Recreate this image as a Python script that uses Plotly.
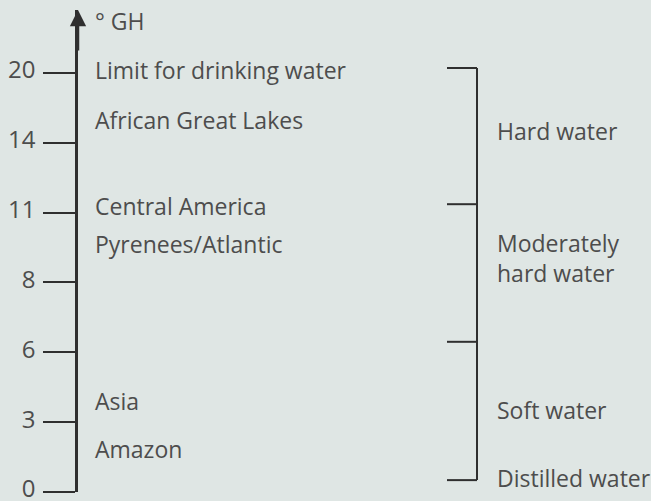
import plotly.graph_objects as go

# hardness scale (drawn evenly spaced, not to scale)
gh_ticks = ["0", "3", "6", "8", "11", "14", "20"]
tick_pos = list(range(len(gh_ticks)))

# where waters come from, positioned on the scale
origins = ["Limit for drinking water", "African Great Lakes", "Central America",
           "Pyrenees/Atlantic", "Asia", "Amazon"]
origin_pos = [5.99, 5.28, 4.05, 3.5, 1.25, 0.57]

# hardness classes (bracket on the right)
classes = ["Hard water", "Moderately<br>hard water", "Soft water", "Distilled water"]
class_pos = [5.12, 3.3, 1.13, 0.16]
bracket_bounds = [6.07, 4.12, 2.15, 0.17]

ink = "#2f2f2f"
txt = "#4d4d4d"
bg = "#dfe6e4"
font = "Open Sans"
fs = 23

fig = go.Figure()

fig.add_trace(go.Scatter(
    x=[17] * len(origins), y=origin_pos, text=origins,
    mode="text", textposition="middle right",
    textfont=dict(family=font, size=fs, color=txt),
    hoverinfo="skip", showlegend=False))

# bracket
bx, by = [], []
for b in bracket_bounds:
    bx += [369, 399, None]
    by += [b, b, None]
bx += [399, 399]
by += [bracket_bounds[0], bracket_bounds[-1]]
fig.add_trace(go.Scatter(x=bx, y=by, mode="lines",
                         line=dict(color=ink, width=2),
                         hoverinfo="skip", showlegend=False))

fig.add_trace(go.Scatter(
    x=[419] * len(classes), y=class_pos, text=classes,
    mode="text", textposition="middle right",
    textfont=dict(family=font, size=fs, color=txt),
    hoverinfo="skip", showlegend=False))

fig.add_annotation(x=0, y=6.9, ax=0, ay=6.3, xref="x", yref="y",
                   axref="x", ayref="y", text="", showarrow=True,
                   arrowhead=2, arrowsize=1.3, arrowwidth=2.5, arrowcolor=ink)
fig.add_annotation(x=15, y=6.74, xref="x", yref="y", text="° GH",
                   showarrow=False, xanchor="left",
                   font=dict(family=font, size=fs, color=txt))

fig.update_xaxes(range=[0, 573], visible=False, fixedrange=True,
                 automargin=False)
fig.update_yaxes(range=[0, 6.9], tickvals=tick_pos, ticktext=gh_ticks,
                 ticks="outside", ticklen=32, tickwidth=2, tickcolor=ink,
                 showline=True, linewidth=2.5, linecolor=ink,
                 showgrid=False, zeroline=False, ticklabelstandoff=3,
                 ticklabelshift=-3,
                 ticklabeloverflow="allow", fixedrange=True, automargin=False,
                 tickfont=dict(family=font, size=24, color=txt))

fig.update_layout(width=651, height=501,
                  margin=dict(l=78, r=0, t=10, b=9, autoexpand=False),
                  paper_bgcolor=bg, plot_bgcolor=bg)

fig.write_html("out.html", config={"displayModeBar": False},
               post_script="document.body.style.margin='0';"
                           "document.body.style.overflow='hidden';")
